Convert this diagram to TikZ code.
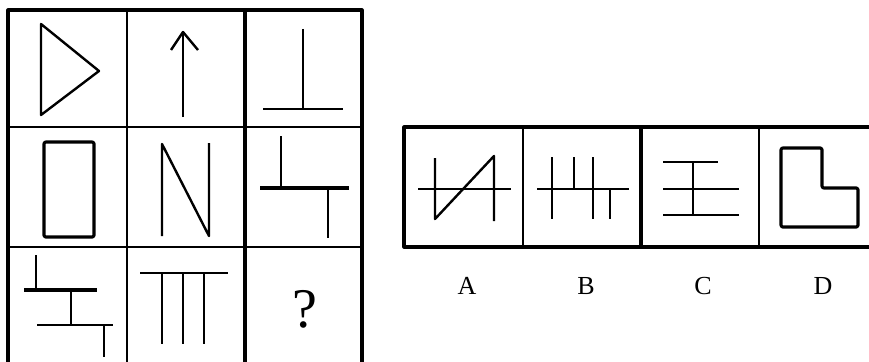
\documentclass[tikz,border=0pt]{standalone}
\usepackage{fontspec}
\setmainfont{Liberation Serif}
\begin{document}
\begin{tikzpicture}[x=1pt, y=-1pt, line join=round, line cap=butt]
	\tikzset{
		frame/.style={line width=3.1pt},
		row line/.style={line width=2.1pt},
		thin grid/.style={line width=1.3pt},
		fig/.style={line width=2.4pt},
		bold fig/.style={line width=3.2pt},
		letter/.style={font=\fontsize{26}{26}\selectfont, inner sep=0pt}
	}
	\useasboundingbox (0,0) rectangle (869,361);
	\clip (0,0) rectangle (869,361);
	
	% 九宫格
	\draw[thin grid] (127,10) -- (127,370);
	\draw[row line] (8,127) -- (362,127);
	\draw[row line] (8,247) -- (362,247);
	\draw[frame] (245,10) -- (245,370);
	\draw[frame] (8,370) -- (8,10) -- (362,10) -- (362,370);
	
	% 第一行
	\draw[fig] (41,24) -- (41,115) -- (99,71) -- cycle;
	\draw[fig] (183,117) -- (183,32);
	\draw[fig] (171,50) -- (183,32) -- (198,50);
	\draw[fig] (303,29) -- (303,109);
	\draw[fig] (263,109) -- (343,109);
	
	% 第二行
	\draw[bold fig, rounded corners=2pt] (44,142) rectangle (94,237);
	\draw[fig] (162,236) -- (162,144) -- (209,236) -- (209,143);
	\draw[fig] (281,136) -- (281,188);
	\draw[bold fig] (260,188) -- (349,188);
	\draw[fig] (328,188) -- (328,238);
	
	% 第三行
	\draw[fig] (36,255) -- (36,290);
	\draw[bold fig] (24,290) -- (97,290);
	\draw[fig] (71,290) -- (71,325);
	\draw[fig] (37,325) -- (113,325);
	\draw[fig] (104,325) -- (104,357);
	\draw[fig] (140,273) -- (228,273);
	\foreach \x in {162,183,204}
		\draw[fig] (\x,273) -- (\x,344);
	\node[font=\fontsize{56}{56}\selectfont, inner sep=0pt] (qmark) at (305,309) {?};
	
	% 选项
	\draw[frame] (880,127) -- (404,127) -- (404,247) -- (880,247);
	\draw[thin grid] (523,127) -- (523,247);
	\draw[frame] (641,127) -- (641,247);
	\draw[thin grid] (759,127) -- (759,247);
	
	% A
	\draw[fig] (418,189) -- (511,189);
	\draw[fig] (435,158) -- (435,219) -- (494,156) -- (494,221);
	% B
	\draw[fig] (537,189) -- (629,189);
	\draw[fig] (552,157) -- (552,219);
	\draw[fig] (574,157) -- (574,189);
	\draw[fig] (593,157) -- (593,219);
	\draw[fig] (610,189) -- (610,219);
	% C
	\draw[fig] (663,162) -- (718,162);
	\draw[fig] (663,189) -- (739,189);
	\draw[fig] (663,215) -- (739,215);
	\draw[fig] (693,162) -- (693,215);
	% D
	\draw[bold fig, rounded corners=2pt] (781,148) -- (822,148) -- (822,188) -- (858,188) -- (858,227) -- (781,227) -- cycle;
	
	\node[letter] (labA) at (467,286) {A};
	\node[letter] (labB) at (586,286) {B};
	\node[letter] (labC) at (703,286) {C};
	\node[letter] (labD) at (823,286) {D};
\end{tikzpicture}
\end{document}
